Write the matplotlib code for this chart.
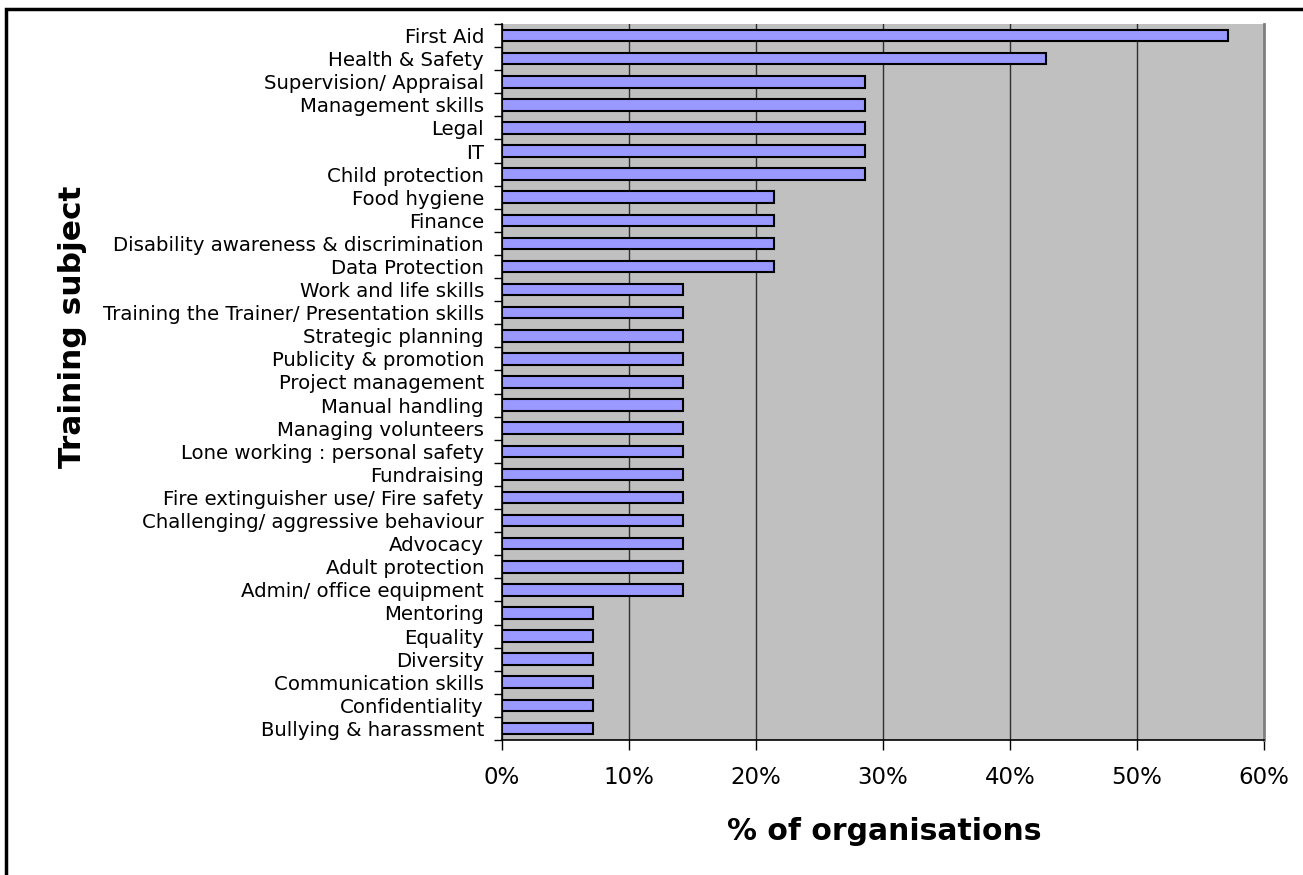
import numpy as np
import matplotlib
matplotlib.use('Agg')
import matplotlib.pyplot as plt
from matplotlib.patches import Rectangle
from matplotlib.ticker import PercentFormatter, FixedLocator

# training subjects, top to bottom, and share of organisations (of 14 surveyed)
subjects = [
    "First Aid", "Health & Safety", "Supervision/ Appraisal", "Management skills",
    "Legal", "IT", "Child protection", "Food hygiene", "Finance",
    "Disability awareness & discrimination", "Data Protection",
    "Work and life skills", "Training the Trainer/ Presentation skills",
    "Strategic planning", "Publicity & promotion", "Project management",
    "Manual handling", "Managing volunteers", "Lone working : personal safety",
    "Fundraising", "Fire extinguisher use/ Fire safety",
    "Challenging/ aggressive behaviour", "Advocacy", "Adult protection",
    "Admin/ office equipment", "Mentoring", "Equality", "Diversity",
    "Communication skills", "Confidentiality", "Bullying & harassment",
]
counts = [8, 6, 4, 4, 4, 4, 4, 3, 3, 3, 3,
          2, 2, 2, 2, 2, 2, 2, 2, 2, 2, 2, 2, 2, 2,
          1, 1, 1, 1, 1, 1]
n_orgs = 14
pct = np.array(counts) / n_orgs * 100

plt.rcParams['font.family'] = ['DejaVu Sans']

W, H = 1303, 875
fig = plt.figure(figsize=(W / 100, H / 100), dpi=100)
ax = fig.add_axes([502 / W, 135 / H, 762 / W, 716 / H])

y = np.arange(len(subjects))
ax.barh(y, pct, height=0.5, color='#9999ff', edgecolor='black', linewidth=1.5, zorder=3)

ax.set_facecolor('#c0c0c0')
ax.set_xlim(0, 60)
ax.set_ylim(len(subjects) - 0.5, -0.5)

ax.set_xticks(np.arange(0, 61, 10))
ax.xaxis.set_major_formatter(PercentFormatter(decimals=0))
ax.grid(axis='x', color='#303030', linewidth=1, zorder=1)

ax.set_yticks(y)
ax.set_yticklabels(subjects)
ax.yaxis.set_minor_locator(FixedLocator(np.arange(-0.5, len(subjects), 1)))
ax.tick_params(axis='y', which='major', length=0, pad=13, labelsize=14.2)
ax.tick_params(axis='y', which='minor', length=6, width=1, direction='out')
ax.tick_params(axis='x', length=7, width=1, direction='out', pad=12, labelsize=16.5)

for s in ['left', 'bottom']:
    ax.spines[s].set_color('black')
    ax.spines[s].set_linewidth(1.2)
ax.spines['top'].set_visible(False)
ax.spines['right'].set_color('#808080')
ax.spines['right'].set_linewidth(2)

fig.text(884 / W, 1 - 840 / H, '% of organisations', fontsize=21.5,
         fontweight='bold', ha='center', va='baseline')
fig.text(73 / W, 1 - 327 / H, 'Training subject', rotation=90, fontsize=22.5,
         fontweight='bold', ha='center', va='center')

# outer chart frame (right and bottom edges fall outside the picture)
fig.patches.append(Rectangle((6 / W, -0.1), 1.2, 1 - 9 / H + 0.1,
                             transform=fig.transFigure, fill=False,
                             edgecolor='black', linewidth=2.5))

fig.savefig('out.png', dpi=100)
